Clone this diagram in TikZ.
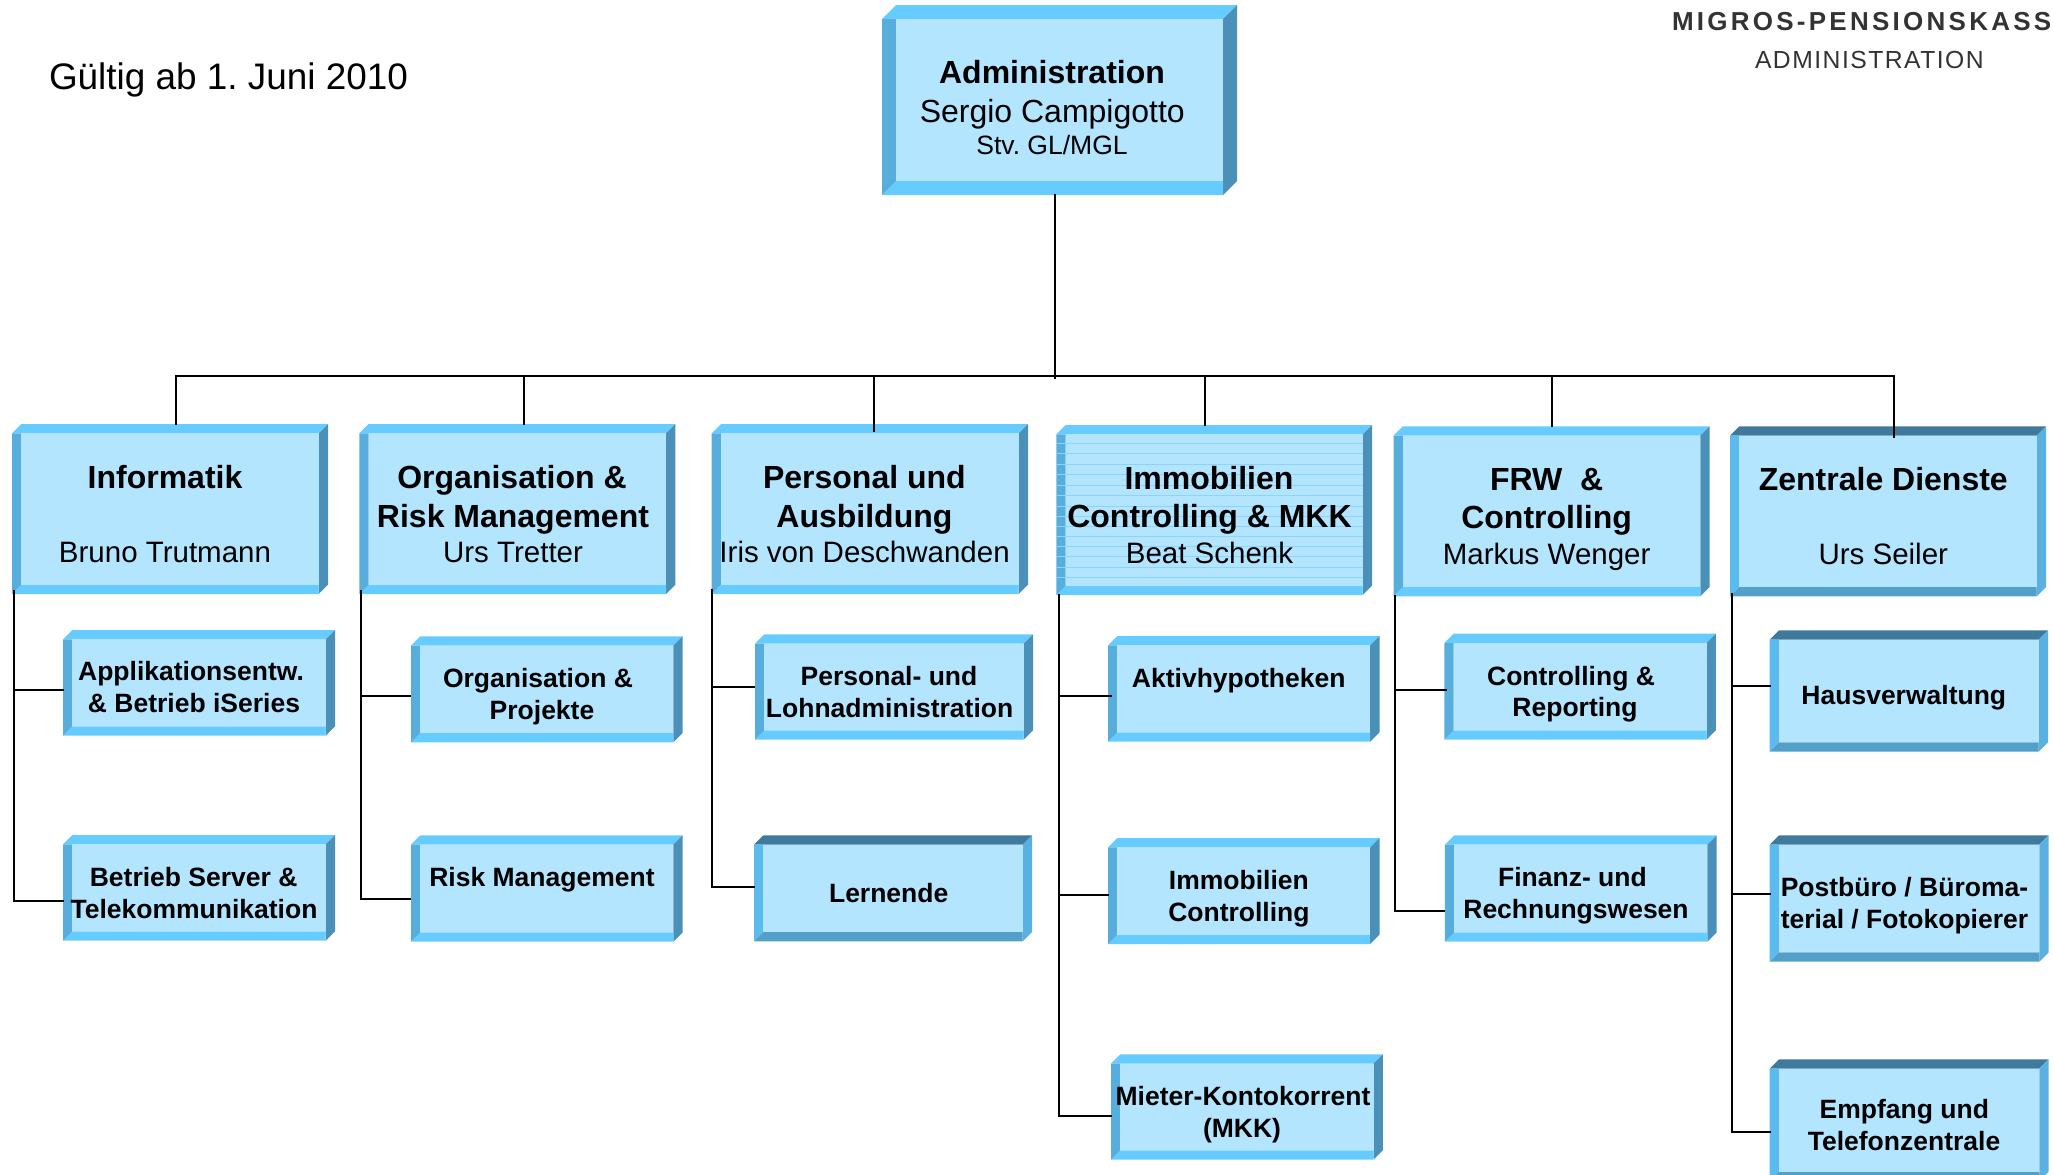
\documentclass[tikz,border=0pt]{standalone}
\usepackage{fontspec}
\setmainfont{Liberation Sans}
\newfontfamily\logobold[LetterSpace=12.5]{Liberation Sans}
\newfontfamily\logoreg[LetterSpace=6]{Liberation Sans}
\definecolor{faceC}{HTML}{B3E5FF}
\definecolor{stripeC}{HTML}{8AD4FF}
\definecolor{topA}{HTML}{66CCFF}
\definecolor{leftA}{HTML}{57AEDD}
\definecolor{rightA}{HTML}{4A90B8}
\definecolor{botA}{HTML}{66CCFF}
\definecolor{topB}{HTML}{3F7A9C}
\definecolor{leftB}{HTML}{5CBBEE}
\definecolor{rightB}{HTML}{5AB0E0}
\definecolor{botB}{HTML}{529FCA}
\definecolor{logoC}{HTML}{333333}
\tikzset{
  conn/.style={draw=black,line width=2pt,line cap=rect},
  lblbase/.style={anchor=base,inner sep=0pt,outer sep=0pt,text=black},
  lblhead/.style={lblbase,font=\frenchspacing\fontsize{32}{38}\selectfont\bfseries},
  lbltop/.style={lblbase,font=\frenchspacing\fontsize{32}{38}\selectfont},
  lblname/.style={lblbase,font=\frenchspacing\fontsize{29.5}{35}\selectfont},
  lblsub/.style={lblbase,font=\frenchspacing\fontsize{26.5}{32}\selectfont},
  lblchild/.style={lblbase,font=\frenchspacing\fontsize{26.5}{32}\selectfont\bfseries},
  boxnode/.style={inner sep=0pt,outer sep=0pt,draw=none},
}
% name, x0, y0, x1, y1, bevel depth, palette (A or B)
\newcommand\orgbox[7]{%
  \fill[top#7] (#2,#3+#6) -- (#2+#6,#3) -- (#4,#3) -- (#4-#6,#3+#6) -- cycle;
  \fill[right#7] (#4,#3) -- (#4,#5-#6) -- (#4-#6,#5) -- (#4-#6,#3+#6) -- cycle;
  \fill[bot#7] (#2,#5) -- (#4-#6,#5) -- (#4-#6,#5-#6) -- (#2+#6,#5-#6) -- cycle;
  \fill[left#7] (#2,#3+#6) -- (#2+#6,#3+#6) -- (#2+#6,#5-#6) -- (#2,#5) -- cycle;
  \fill[faceC] (#2+#6,#3+#6) rectangle (#4-#6,#5-#6);
  \pgfmathsetmacro\bxw{#4-#2}\pgfmathsetmacro\bxh{#5-#3}
  \node[boxnode,minimum width=\bxw pt,minimum height=\bxh pt] (#1) at ({(#2+#4)/2},{(#3+#5)/2}) {};
}
% style, name, x, y, text
\newcommand\lbl[5]{\node[#1] (#2) at (#3,#4) {#5};}
\begin{document}
\begin{tikzpicture}[x=1pt,y=-1pt]
\useasboundingbox (0,0) rectangle (2053,1175);

% Boxes
\orgbox{adm}{882}{5}{1237}{195}{14}{A}
\orgbox{inf}{12}{424}{328}{594}{9.3}{A}
\orgbox{org}{359.4}{424}{675.4}{594}{9.3}{A}
\orgbox{per}{711.7}{424}{1028}{594}{9.3}{A}
\orgbox{imm}{1056.3}{425}{1372}{595}{9.3}{A}
\orgbox{frw}{1393.6}{426.3}{1709.6}{596.3}{9.3}{A}
\orgbox{zen}{1730}{426.3}{2046}{596.3}{9.3}{B}
\orgbox{app}{63}{630}{335}{735.7}{9.3}{A}
\orgbox{bet}{63}{835}{335}{940.7}{9.3}{A}
\orgbox{orp}{411}{636.3}{682.6}{742.3}{9.3}{A}
\orgbox{ris}{411}{835.3}{682.6}{941.7}{9.3}{A}
\orgbox{pal}{755}{634.3}{1033}{739.7}{9.3}{A}
\orgbox{ler}{754}{835.3}{1032}{941.3}{9.3}{B}
\orgbox{akt}{1108}{636}{1379.5}{741.7}{9.3}{A}
\orgbox{imc}{1108}{838}{1379.5}{944}{9.3}{A}
\orgbox{mie}{1111}{1054.3}{1382.8}{1159.7}{9.3}{A}
\orgbox{con}{1444.4}{633.7}{1715.8}{739.7}{9.3}{A}
\orgbox{fin}{1444.9}{835.3}{1716.7}{941.7}{9.3}{A}
\orgbox{hau}{1769.7}{630.3}{2048}{751.7}{9.3}{B}
\orgbox{pos}{1769.7}{835.3}{2048.6}{961.7}{9.3}{B}
\orgbox{emp}{1769.7}{1059.3}{2048.6}{1181}{9.3}{B}

% Stripes of the Immobilien box
\foreach \sy in {443.3,453.8,464.3,474.3,485,495.7,506,516,526.7,536.7,546.7,556.7,567.3,577.7}
  \draw[stripeC,line width=0.7pt] (1056.3,\sy) -- (1362.7,\sy);

% Connectors from the top box to the six departments
\coordinate (d-adm) at (1055,376);
\coordinate (d-inf) at (176,376);
\coordinate (d-org) at (524,376);
\coordinate (d-per) at (874,376);
\coordinate (d-imm) at (1205,376);
\coordinate (d-frw) at (1552,376);
\coordinate (d-zen) at (1894,376);
\draw[conn] (d-inf) -- (d-zen);
\draw[conn] (d-adm |- adm.south) -- ([yshift=-2pt]d-adm);
\draw[conn] (d-inf) -- (d-inf |- inf.north);
\draw[conn] (d-org) -- (d-org |- org.north);
\draw[conn] (d-per) -- ([yshift=-6.7pt]d-per |- per.north);
\draw[conn] (d-imm) -- (d-imm |- imm.north);
\draw[conn] (d-frw) -- (d-frw |- frw.north);
\draw[conn] (d-zen) -- ([yshift=-10.4pt]d-zen |- zen.north);

% Connectors from each department to its units
\draw[conn] ([shift={(2pt,3pt)}]inf.south west) |- ([yshift=-7.2pt]app.west);
\draw[conn] ([shift={(2pt,3pt)}]inf.south west) |- ([yshift=-13.1pt]bet.west);
\draw[conn] ([shift={(1.3pt,3pt)}]org.south west) |- ([shift={(-1pt,-6.4pt)}]orp.west);
\draw[conn] ([shift={(1.3pt,3pt)}]org.south west) |- ([shift={(-1pt,-10.8pt)}]ris.west);
\draw[conn] ([shift={(0.3pt,4pt)}]per.south west) |- ([shift={(-1pt,0pt)}]pal.west);
\draw[conn] ([shift={(0.3pt,4pt)}]per.south west) |- ([yshift=1.3pt]ler.west);
\draw[conn] ([xshift=2.7pt]imm.south west) |- ([shift={(2.7pt,-6.9pt)}]akt.west);
\draw[conn] ([xshift=2.7pt]imm.south west) |- ([yshift=-4pt]imc.west);
\draw[conn] ([xshift=2.7pt]imm.south west) |- ([yshift=-9.3pt]mie.west);
\draw[conn] ([xshift=1.4pt]frw.south west) |- ([shift={(1.3pt,-3.3pt)}]con.west);
\draw[conn] ([xshift=1.4pt]frw.south west) |- ([shift={(-1pt,-22.2pt)}]fin.west);
\draw[conn] ([shift={(1.7pt,2pt)}]zen.south west) |- ([yshift=5.3pt]hau.west);
\draw[conn] ([shift={(1.7pt,2pt)}]zen.south west) |- ([yshift=4.5pt]pos.west);
\draw[conn] ([shift={(1.7pt,2pt)}]zen.south west) |- ([yshift=-12.2pt]emp.west);

% Box texts
\lbl{lblhead}{adm-a}{1052}{83.3}{Administration}
\lbl{lbltop}{adm-b}{1052.3}{122}{Sergio Campigotto}
\lbl{lblsub}{adm-c}{1052}{154.3}{Stv. GL/MGL}

\lbl{lblhead}{inf-a}{165}{488.5}{Informatik}
\lbl{lblname}{inf-b}{165}{562.5}{Bruno Trutmann}
\lbl{lblhead}{org-a}{512}{488.5}{Organisation \&}
\lbl{lblhead}{org-b}{513}{527}{Risk Management}
\lbl{lblname}{org-c}{513}{562.5}{Urs Tretter}
\lbl{lblhead}{per-a}{864.4}{488.5}{Personal und}
\lbl{lblhead}{per-b}{864.4}{527}{Ausbildung}
\lbl{lblname}{per-c}{864.6}{562.5}{Iris von Deschwanden}
\lbl{lblhead}{imm-a}{1209}{489.8}{Immobilien}
\lbl{lblhead}{imm-b}{1209.5}{527.8}{Controlling \& MKK}
\lbl{lblname}{imm-c}{1209.5}{563.3}{Beat Schenk}
\lbl{lblhead}{frw-a}{1546.6}{490.7}{FRW\ \ \&}
\lbl{lblhead}{frw-b}{1546.6}{528.7}{Controlling}
\lbl{lblname}{frw-c}{1546.6}{564}{Markus Wenger}
\lbl{lblhead}{zen-a}{1883.3}{490.7}{Zentrale Dienste}
\lbl{lblname}{zen-b}{1883.3}{564}{Urs Seiler}

\lbl{lblchild}{app-a}{191}{680.7}{Applikationsentw.}
\lbl{lblchild}{app-b}{194}{712.7}{\& Betrieb iSeries}
\lbl{lblchild}{bet-a}{193.7}{886.7}{Betrieb Server \&}
\lbl{lblchild}{bet-b}{194}{918.7}{Telekommunikation}
\lbl{lblchild}{orp-a}{538}{687.7}{Organisation \&}
\lbl{lblchild}{orp-b}{542}{719.7}{Projekte}
\lbl{lblchild}{ris-a}{542}{886.7}{Risk Management}
\lbl{lblchild}{pal-a}{889}{685.7}{Personal- und}
\lbl{lblchild}{pal-b}{889.6}{717.7}{Lohnadministration}
\lbl{lblchild}{ler-a}{888.7}{902.7}{Lernende}
\lbl{lblchild}{akt-a}{1238.7}{687.7}{Aktivhypotheken}
\lbl{lblchild}{imc-a}{1238.9}{889}{Immobilien}
\lbl{lblchild}{imc-b}{1238.9}{921}{Controlling}
\lbl{lblchild}{mie-a}{1243}{1105.7}{Mieter-Kontokorrent}
\lbl{lblchild}{mie-b}{1242}{1137.7}{(MKK)}
\lbl{lblchild}{con-a}{1571}{685}{Controlling \&}
\lbl{lblchild}{con-b}{1575}{716.5}{Reporting}
\lbl{lblchild}{fin-a}{1572.4}{886.7}{Finanz- und}
\lbl{lblchild}{fin-b}{1576}{918.7}{Rechnungswesen}
\lbl{lblchild}{hau-a}{1903.8}{704}{Hausverwaltung}
\lbl{lblchild,anchor=base west}{pos-a}{1780.8}{896.7}{Postbüro / Büroma-}
\lbl{lblchild,anchor=base west}{pos-b}{1780.8}{928.7}{terial / Fotokopierer}
\lbl{lblchild}{emp-a}{1904.3}{1118}{Empfang und}
\lbl{lblchild}{emp-b}{1904}{1150}{Telefonzentrale}

% Free texts
\node[lblbase,anchor=base west,font=\frenchspacing\fontsize{36.9}{44}\selectfont] (valid) at (49,89) {Gültig ab 1. Juni 2010};
\node[lblbase,anchor=base west,text=logoC,font=\logobold\fontsize{26}{30}\selectfont\bfseries] (logo-a) at (1672,30) {MIGROS-PENSIONSKASS};
\node[lblbase,anchor=base west,text=logoC,font=\logoreg\fontsize{24.7}{30}\selectfont] (logo-b) at (1755,68) {ADMINISTRATION};
\end{tikzpicture}
\end{document}
